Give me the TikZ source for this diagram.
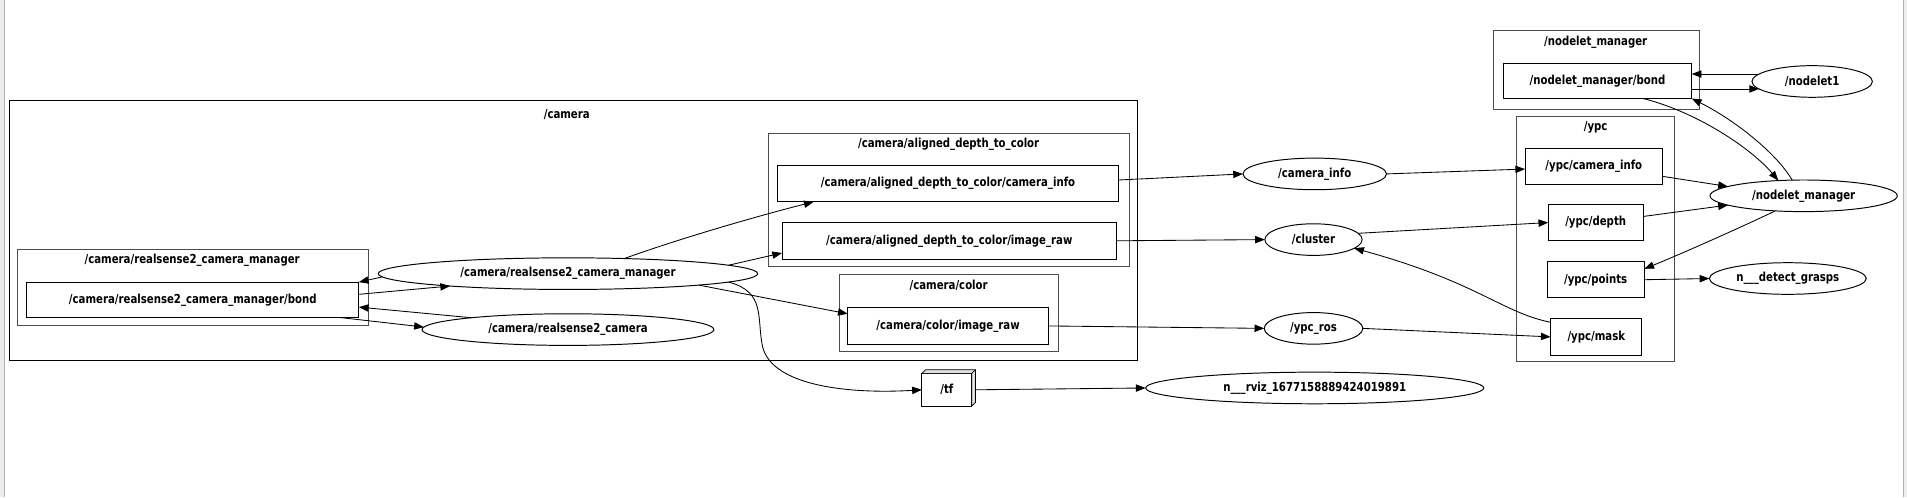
\documentclass[tikz,border=0pt]{standalone}
\usepackage{fontspec}
\setmainfont{DejaVu Sans Condensed}[FakeStretch=0.91]
\usetikzlibrary{arrows.meta, positioning, shapes.geometric}

\begin{document}
\begin{tikzpicture}[x=1pt, y=-1pt,
  every node/.style={font=\bfseries\fontsize{10.2}{12}\selectfont, inner sep=0pt, outer sep=0pt},
  topic/.style={draw, line width=0.8pt, rectangle, minimum height=30},
  rosnode/.style={draw, line width=0.8pt, ellipse, minimum height=26},
  grp/.style={draw=black!70, line width=0.8pt, rectangle, anchor=north west},
  link/.style={line width=0.7pt, -{Triangle[length=8pt,width=6pt]}}]

  \useasboundingbox (0,0) rectangle (1568,409);

  % window edges
  \fill[black!7] (0,0) rectangle (4,409);
  \draw[black!30, line width=0.8pt] (4,0) -- (4,409);
  \fill[black!7] (1565,0) rectangle (1568,409);
  \draw[black!30, line width=0.8pt] (1565.5,0) -- (1565.5,409);

  % Groups
  \node[grp, draw=black, minimum width=927, minimum height=213] (camgrp) at (8,83) {};
  \node (camlbl) at (466,94) {/camera};
  \node[grp, minimum width=289, minimum height=63] (rsgrp) at (14,205) {};
  \node (rslbl) at (158,214) {/camera/realsense2\_camera\_manager};
  \node[grp, minimum width=297, minimum height=109] (adcgrp) at (632,110) {};
  \node (adclbl) at (780,119) {/camera/aligned\_depth\_to\_color};
  \node[grp, minimum width=180, minimum height=63] (colgrp) at (690,226) {};
  \node (collbl) at (780,235) {/camera/color};
  \node[grp, minimum width=169, minimum height=65] (nmgrp) at (1228,25) {};
  \node (nmlbl) at (1312,35) {/nodelet\_manager};
  \node[grp, minimum width=130, minimum height=201] (ypcgrp) at (1247,96) {};
  \node (ypclbl) at (1312,105) {/ypc};

  % Topics
  \node[topic, minimum width=273, minimum height=29] (rsbond) at (158.5,246.5) {/camera/realsense2\_camera\_manager/bond};
  \node[topic, minimum width=281] (adcinfo) at (779.5,151) {/camera/aligned\_depth\_to\_color/camera\_info};
  \node[topic, minimum width=275] (adcraw) at (780.5,198) {/camera/aligned\_depth\_to\_color/image\_raw};
  \node[topic, minimum width=165] (colraw) at (779.5,268) {/camera/color/image\_raw};
  \node[topic, minimum width=155, minimum height=29] (nmbond) at (1313.5,66.5) {/nodelet\_manager/bond};
  \node[topic, minimum width=113] (ypcinfo) at (1310.5,137) {/ypc/camera\_info};
  \node[topic, minimum width=78] (ypcdepth) at (1312,183) {/ypc/depth};
  \node[topic, minimum width=80] (ypcpoints) at (1312,230) {/ypc/points};
  \node[topic, minimum width=75] (ypcmask) at (1312.5,277) {/ypc/mask};
  \node[topic, minimum width=41, minimum height=27] (tf) at (778.5,320.5) {/tf};
  \filldraw[fill=black!12, line width=0.6pt] (tf.north west) -- ++(3,-3) -- ++(41,0) -- ++(0,27) -- (tf.south east) -- (tf.north east) -- cycle;
  \draw[line width=0.6pt] (tf.north east) -- ++(3,-3);

  % Nodes
  \node[rosnode, minimum width=312] (mgr) at (467,225) {/camera/realsense2\_camera\_manager};
  \node[rosnode, minimum width=240] (rscam) at (467,271) {/camera/realsense2\_camera};
  \node[rosnode, minimum width=118] (caminfo) at (1081,143) {/camera\_info};
  \node[rosnode, minimum width=80] (cluster) at (1080,197) {/cluster};
  \node[rosnode, minimum width=81] (ypcros) at (1080,270) {/ypc\_ros};
  \node[rosnode, minimum width=278] (rviz) at (1081,319) {n\_\_\_rviz\_1677158889424019891};
  \node[rosnode, minimum width=99] (nodelet1) at (1490,67) {/nodelet1};
  \node[rosnode, minimum width=154] (nmgr) at (1483,161) {/nodelet\_manager};
  \node[rosnode, minimum width=129] (grasps) at (1470,229) {n\_\_\_detect\_grasps};

  % Edges
  \draw[link] (mgr.181) -- (rsbond.north east);
  \draw[link] ([yshift=4.5pt]rsbond.east) -- (mgr.186);
  \draw[link] (rscam.173) -- ([yshift=-6pt]rsbond.east);
  \draw[link] ([xshift=-16pt]rsbond.south east) -- (rscam.179);
  \draw[link] (mgr.15) .. controls +(50,-18) and +(-40,10) .. ([xshift=30pt]adcinfo.south west);
  \draw[link] (mgr.3) -- ([yshift=5pt]adcraw.south west);
  \draw[link] (mgr.-5) -- ([yshift=-5pt]colraw.north west);
  \draw[link] (mgr.-3) .. controls (630,240) and (622,262) .. (627,285)
    .. controls (635,318) and (700,324) .. (tf.west);
  \draw[link] ([yshift=3pt]adcinfo.east) -- (caminfo.west);
  \draw[link] (adcraw.east) -- (cluster.west);
  \draw[link] (colraw.east) -- (ypcros.west);
  \draw[link] ([xshift=3pt]tf.east) -- (rviz.west);
  \draw[link] (caminfo.east) -- ([yshift=-2pt]ypcinfo.west);
  \draw[link] (cluster.8) -- (ypcdepth.west);
  \draw[link] ([yshift=-3pt]ypcmask.north west) .. controls (1235,257) and (1215,232) .. (cluster.-12);
  \draw[link] (ypcros.east) -- (ypcmask.west);
  \draw[link] ([yshift=-8pt]ypcinfo.east) -- (nmgr.173);
  \draw[link] ([yshift=5pt]ypcdepth.east) -- (nmgr.187);
  \draw[link] (nmgr.208) .. controls +(-25,12) and +(30,-12) .. ([yshift=-6pt]ypcpoints.north east);
  \draw[link] (ypcpoints.east) -- (grasps.west);
  \draw[link] (nodelet1.172) -- (nodelet1.172 -| nmbond.east);
  \draw[link] (nodelet1.188 -| nmbond.east) -- (nodelet1.188);
  \draw[link] ([xshift=-40pt]nmbond.south east) .. controls (1395,92) and (1440,122) .. (nmgr.149);
  \draw[link] (nmgr.126) .. controls (1460,125) and (1425,98) .. (nmbond.south east);
\end{tikzpicture}
\end{document}
